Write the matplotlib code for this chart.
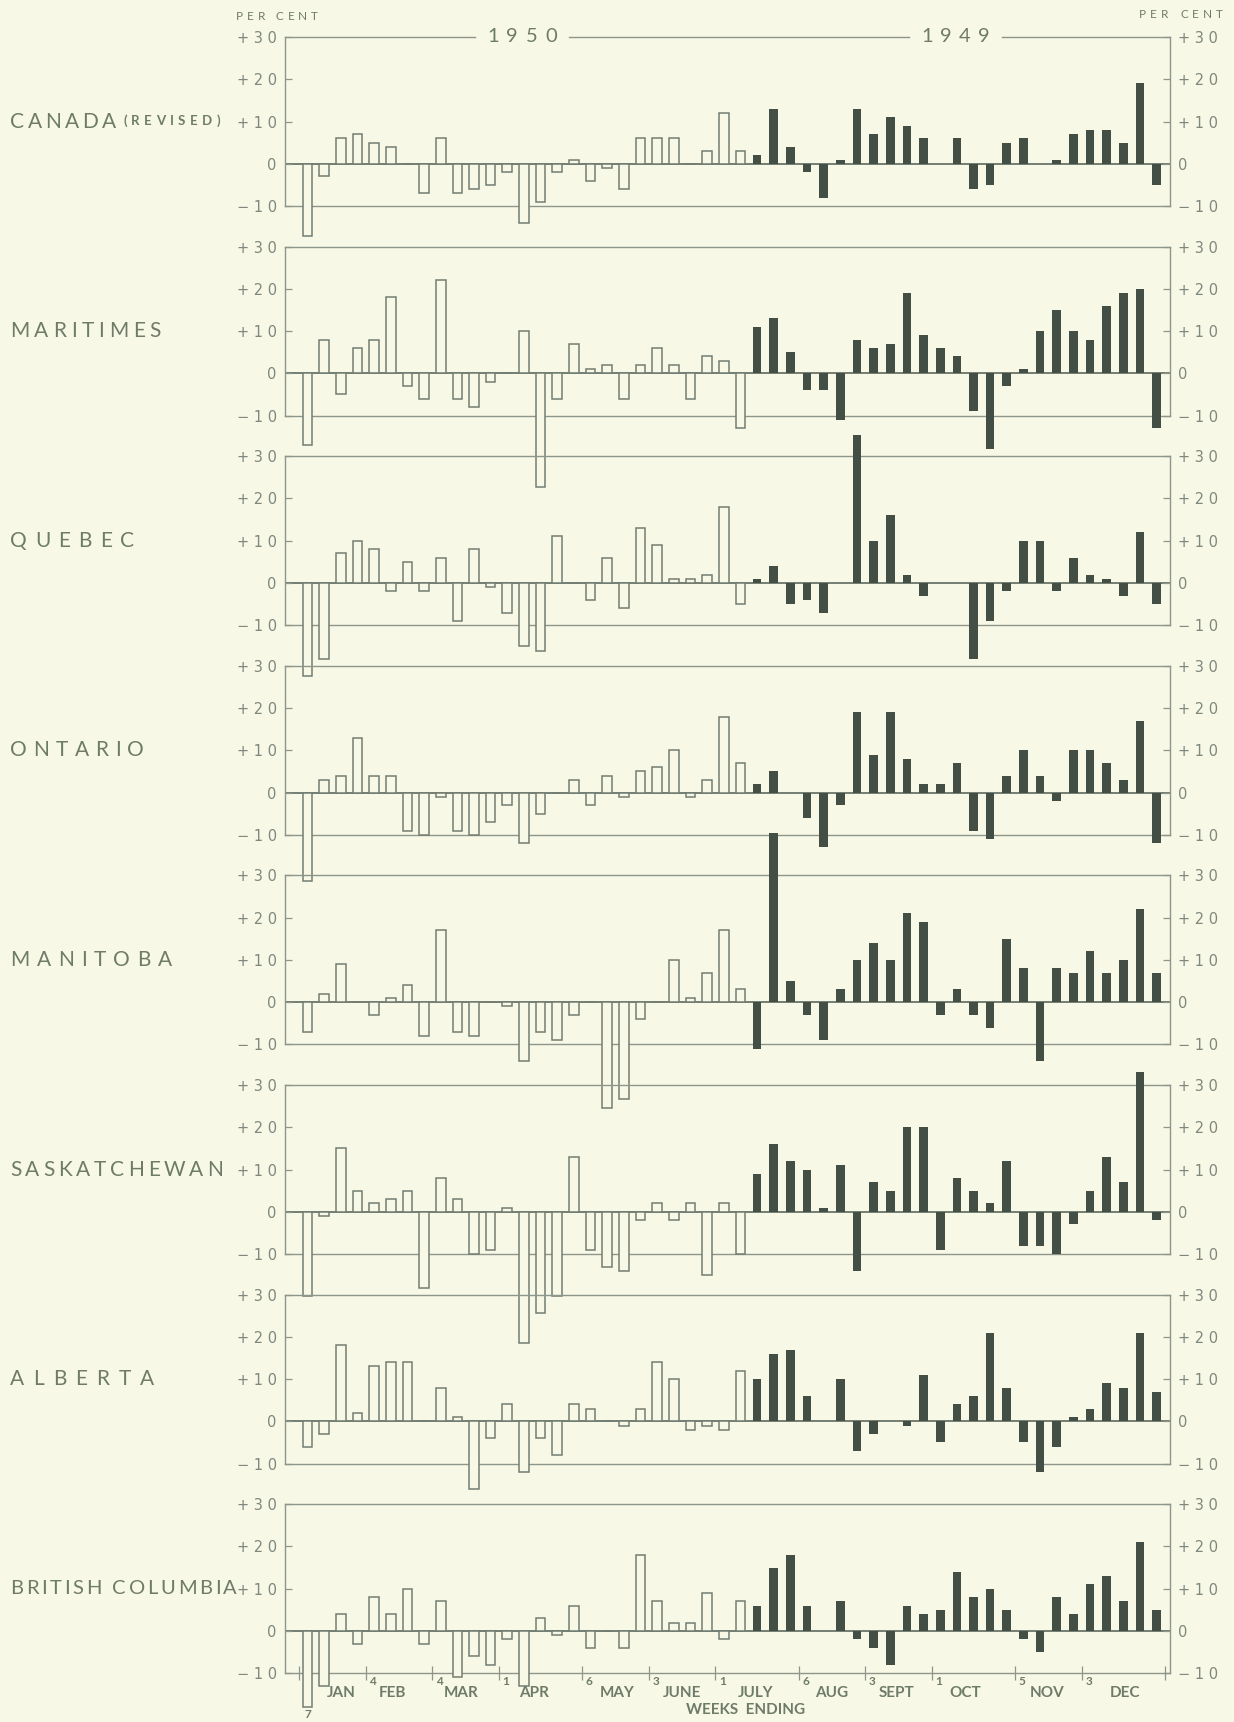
import matplotlib
matplotlib.use("Agg")

import numpy as np
import matplotlib.pyplot as plt


# ============================================================
# Data: weekly per-cent change, slots 0..51
# slots 0..26 are 1950 weeks (open bars), 27..51 are 1949 (filled)
# ============================================================

REGIONS = [
    "CANADA", "MARITIMES", "QUEBEC", "ONTARIO",
    "MANITOBA", "SASKATCHEWAN", "ALBERTA", "BRITISH COLUMBIA",
]

CANADA = [-17, -3, 6, 7, 5, 4, 0, -7, 6, -7, -6, -5, -2, -14, -9, -2, 1, -4,
          -1, -6, 6, 6, 6, 0, 3, 12, 3,
          2, 13, 4, -2, -8, 1, 13, 7, 11, 9, 6, 0, 6, -6, -5, 5, 6, 0, 1, 7,
          8, 8, 5, 19, -5]
MARITIMES = [-17, 8, -5, 6, 8, 18, -3, -6, 22, -6, -8, -2, 0, 10, -27, -6, 7,
             1, 2, -6, 2, 6, 2, -6, 4, 3, -13,
             11, 13, 5, -4, -4, -11, 8, 6, 7, 19, 9, 6, 4, -9, -18, -3, 1,
             10, 15, 10, 8, 16, 19, 20, -13]
QUEBEC = [-22, -18, 7, 10, 8, -2, 5, -2, 6, -9, 8, -1, -7, -15, -16, 11, 0,
          -4, 6, -6, 13, 9, 1, 1, 2, 18, -5,
          1, 4, -5, -4, -7, 0, 35, 10, 16, 2, -3, 0, 0, -18, -9, -2, 10, 10,
          -2, 6, 2, 1, -3, 12, -5]
ONTARIO = [-21, 3, 4, 13, 4, 4, -9, -10, -1, -9, -10, -7, -3, -12, -5, 0, 3,
           -3, 4, -1, 5, 6, 10, -1, 3, 18, 7,
           2, 5, 0, -6, -13, -3, 19, 9, 19, 8, 2, 2, 7, -9, -11, 4, 10, 4,
           -2, 10, 10, 7, 3, 17, -12]
MANITOBA = [-7, 2, 9, 0, -3, 1, 4, -8, 17, -7, -8, 0, -1, -14, -7, -9, -3, 0,
            -25, -23, -4, 0, 10, 1, 7, 17, 3,
            -11, 40, 5, -3, -9, 3, 10, 14, 10, 21, 19, -3, 3, -3, -6, 15, 8,
            -14, 8, 7, 12, 7, 10, 22, 7]
SASKATCHEWAN = [-20, -1, 15, 5, 2, 3, 5, -18, 8, 3, -10, -9, 1, -31, -24,
                -20, 13, -9, -13, -14, -2, 2, -2, 2, -15, 2, -10,
                9, 16, 12, 10, 1, 11, -14, 7, 5, 20, 20, -9, 8, 5, 2, 12, -8,
                -8, -10, -3, 5, 13, 7, 33, -2]
ALBERTA = [-6, -3, 18, 2, 13, 14, 14, 0, 8, 1, -16, -4, 4, -12, -4, -8, 4, 3,
           0, -1, 3, 14, 10, -2, -1, -2, 12,
           10, 16, 17, 6, 0, 10, -7, -3, 0, -1, 11, -5, 4, 6, 21, 8, -5, -12,
           -6, 1, 3, 9, 8, 21, 7]
BRITISH_COLUMBIA = [-18, -13, 4, -3, 8, 4, 10, -3, 7, -11, -6, -8, -2, -13,
                    3, -1, 6, -4, 0, -4, 18, 7, 2, 2, 9, -2, 7,
                    6, 15, 18, 6, 0, 7, -2, -4, -8, 6, 4, 5, 14, 8, 10, 5, -2,
                    -5, 8, 4, 11, 13, 7, 21, 5]

SERIES = [CANADA, MARITIMES, QUEBEC, ONTARIO, MANITOBA, SASKATCHEWAN,
          ALBERTA, BRITISH_COLUMBIA]
N_OPEN = 27

MONTHS = ["JAN", "FEB", "MAR", "APR", "MAY", "JUNE",
          "JULY", "AUG", "SEPT", "OCT", "NOV", "DEC"]
MONTH_POS = [2.0, 5.1, 9.2, 13.6, 18.6, 22.5, 26.9, 31.5, 35.4, 39.5, 44.4, 49.1]
WEEK_TICKS = [-0.5, 3.5, 7.5, 11.5, 16.5, 20.5, 24.5, 29.5, 33.5, 37.5, 42.5,
              46.5, 51.5]
WEEK_LABELS = ["", "4", "4", "1", "6", "3", "1", "6", "3", "1", "5", "3", ""]

YTICKS = [-10, 0, 10, 20, 30]
YTICK_LABELS = ["\u2212 1 0", "0", "+ 1 0", "+ 2 0", "+ 3 0"]
YEARS = ["1950", "1949"]


# ============================================================
# Layout / style
# ============================================================

W, H = 1234, 1722
BG = "#f8f8e6"
LINE = "#8d968b"
OUTLINE = "#737d72"
FILL = "#434e44"
TEXT = "#6f7b69"
TICK_TEXT = "#7f887d"

AX_L, AX_R = 285, 1170
TOP0, PITCH, PANEL_H = 37, 209.6, 169
XLIM = (-1.35, 51.8)

LABEL_SPAN = {
    "CANADA": (10, 116), "MARITIMES": (10, 161), "QUEBEC": (10, 134),
    "ONTARIO": (10, 144), "MANITOBA": (10, 172), "SASKATCHEWAN": (10, 223),
    "ALBERTA": (10, 154), "BRITISH COLUMBIA": (10, 237),
}
YEAR_SPAN = [(487, 557), (921, 990)]

plt.rcParams["font.family"] = ["Lato", "DejaVu Sans"]


def fx(px):
    return px / W


def fy(py):
    return 1 - py / H


def px_to_slot(px):
    return (px - AX_L) / (AX_R - AX_L) * (XLIM[1] - XLIM[0]) + XLIM[0]


def tracked_text(fig, renderer, x0, x1, y, s, **kw):
    # letter-spaced text filling the pixel span x0..x1
    texts = [fig.text(0, 0, ch, ha="left", va="center", **kw) for ch in s]
    size_px = texts[0].get_fontsize() * 100 / 72
    widths = []
    for t, ch in zip(texts, s):
        if ch == " ":
            widths.append(0.3 * size_px)
        else:
            widths.append(t.get_window_extent(renderer).width)
    gap = (x1 - x0 - sum(widths)) / max(len(s) - 1, 1)
    x = x0
    for t, w in zip(texts, widths):
        t.set_position((fx(x), fy(y)))
        x += w + gap


def main() -> None:
    fig = plt.figure(figsize=(W / 100, H / 100), dpi=100, facecolor=BG)
    renderer = fig.canvas.get_renderer()
    weeks = np.arange(52)
    is_open = weeks < N_OPEN

    axes = []
    for k, (name, values) in enumerate(zip(REGIONS, SERIES)):
        top = TOP0 + k * PITCH
        ax = fig.add_axes([fx(AX_L), fy(top + PANEL_H),
                           (AX_R - AX_L) / W, PANEL_H / H])
        ax.set_facecolor("none")
        vals = np.array(values, dtype=float)

        ax.axhline(0, color=OUTLINE, lw=1.4, zorder=1)
        ax.bar(weeks[is_open], vals[is_open], width=0.58, facecolor=BG,
               edgecolor=OUTLINE, linewidth=1.1, clip_on=False, zorder=3)
        ax.bar(weeks[~is_open], vals[~is_open], width=0.52, color=FILL,
               linewidth=0, clip_on=False, zorder=3)

        ax.set_xlim(*XLIM)
        ax.set_ylim(-10, 30)
        for sp in ax.spines.values():
            sp.set_color(LINE)
            sp.set_linewidth(1.0)

        ax.set_yticks(YTICKS)
        ax.set_yticklabels(YTICK_LABELS, fontfamily="DejaVu Sans",
                           fontsize=10.5, color=TICK_TEXT)
        ax.tick_params(axis="y", direction="in", length=5, width=0.9,
                       color=LINE, left=True, right=True,
                       labelleft=True, labelright=True, pad=6)
        ax.set_xticks([])

        # region name at the +10 level
        y_lab = top + (30 - 10) / 40 * PANEL_H
        x0, x1 = LABEL_SPAN[name]
        size = 15 if name != "BRITISH COLUMBIA" else 14.5
        tracked_text(fig, renderer, x0, x1, y_lab, name, fontsize=size,
                     fontweight="normal", color=TEXT)
        axes.append(ax)

    # "(REVISED)" after CANADA
    tracked_text(fig, renderer, 123, 220, TOP0 + 0.5 * PANEL_H - 0.5,
                 "(REVISED)", fontsize=9.5, fontweight="bold", color=TEXT)

    # year labels breaking the top line of the first panel
    ax0 = axes[0]
    ax0.spines["top"].set_visible(False)
    edges = [XLIM[0]]
    for x0, x1 in YEAR_SPAN:
        edges += [px_to_slot(x0 - 12), px_to_slot(x1 + 12)]
    edges.append(XLIM[1])
    for a, b in zip(edges[::2], edges[1::2]):
        ax0.plot([a, b], [30, 30], color=LINE, lw=1.0, clip_on=False)
    for year, (x0, x1) in zip(YEARS, YEAR_SPAN):
        tracked_text(fig, renderer, x0, x1, TOP0, year, fontsize=14.5,
                     fontweight="normal", color=TEXT)

    tracked_text(fig, renderer, 236, 318, 17, "PER CENT", fontsize=8.5,
                 color=TEXT)
    tracked_text(fig, renderer, 1139, 1223, 15, "PER CENT", fontsize=8.5,
                 color=TEXT)

    # week-ending axis under the last panel
    axb = axes[-1]
    axb.set_xticks(WEEK_TICKS)
    axb.set_xticklabels([])
    axb.tick_params(axis="x", direction="inout", length=10, width=0.9,
                    color=LINE, bottom=True)
    for pos, lab in zip(WEEK_TICKS, WEEK_LABELS):
        if lab:
            axb.annotate(lab, (pos, -10), xytext=(2.5, -2),
                         textcoords="offset points", ha="left", va="top",
                         fontsize=8.5, fontweight="bold", color=TEXT)
    axb.annotate("7", (0, -10), xytext=(0, -26), textcoords="offset points",
                 ha="center", va="top", fontsize=8.5, fontweight="bold",
                 color=TEXT)
    for pos, month in zip(MONTH_POS, MONTHS):
        axb.annotate(month, (pos, -10), xytext=(0, -14.5),
                     textcoords="offset points", ha="center", va="center",
                     fontsize=11, fontweight="bold", color=TEXT)
    axb.annotate("WEEKS  ENDING", (26.3, -10), xytext=(0, -26.5),
                 textcoords="offset points", ha="center", va="center",
                 fontsize=11, fontweight="bold", color=TEXT)

    fig.savefig("out.png", dpi=100, facecolor=BG)
    plt.close(fig)


if __name__ == "__main__":
    main()
